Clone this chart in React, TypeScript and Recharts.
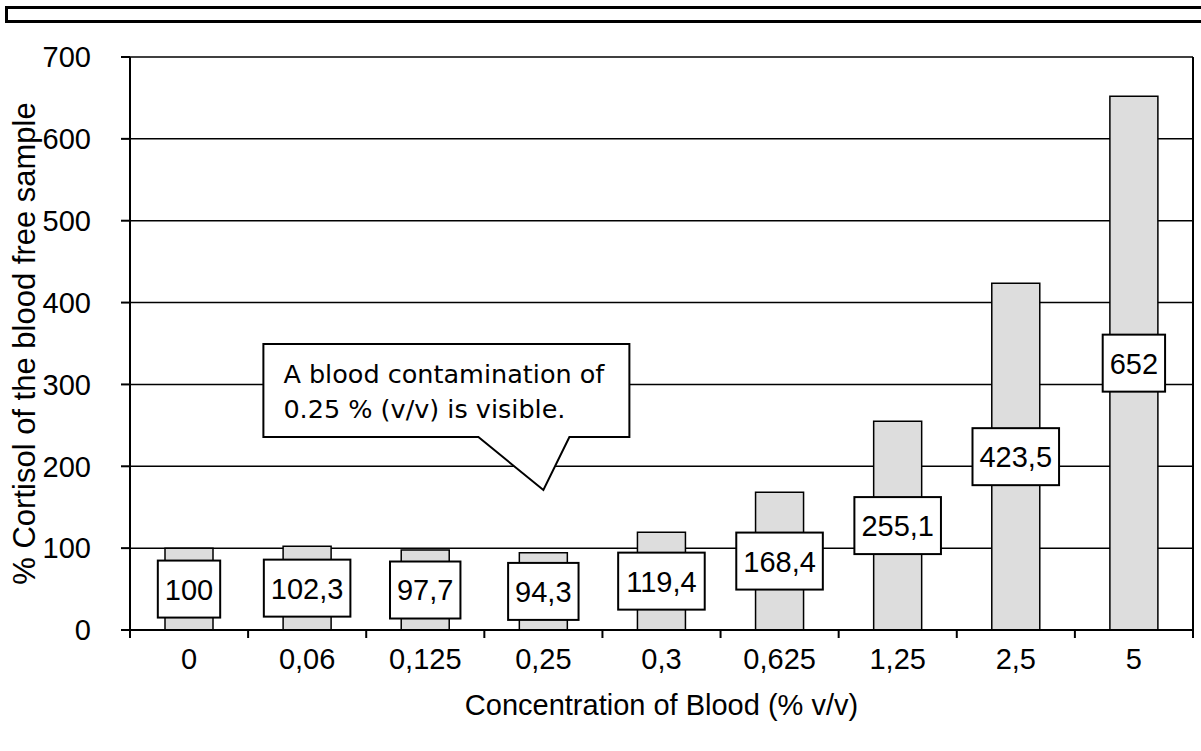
import React from 'react';
import {
  BarChart,
  Bar,
  XAxis,
  YAxis,
  CartesianGrid,
  LabelList,
  Label,
  ReferenceLine,
  ReferenceDot,
} from 'recharts';

// ---- data ----
const categories = ['0', '0,06', '0,125', '0,25', '0,3', '0,625', '1,25', '2,5', '5'];
const cortisolPct = [100, 102.3, 97.7, 94.3, 119.4, 168.4, 255.1, 423.5, 652];
const yTicks = [0, 100, 200, 300, 400, 500, 600, 700];
const calloutLines = ['A blood contamination of', '0.25 % (v/v) is visible.'];
const calloutCategory = '0,25';
const calloutValue = 171;
const xTitle = 'Concentration of Blood (% v/v)';
const yTitle = '% Cortisol of the blood free sample';

const data = categories.map((c, i) => ({ name: c, value: cortisolPct[i] }));

const FONT = '"Liberation Sans", Arial, sans-serif';
const FS = 29;
const X_TICK_SIZE = 8;
const X_TICK_MARGIN = 10;

const charW = (ch: string) => (ch === ',' || ch === '.' ? 0.278 : 0.556);

function XTick(props: any) {
  const { x, y, payload, index, visibleTicksCount, width } = props;
  const half = payload && payload.offset ? payload.offset : width / visibleTicksCount / 2;
  const axisY = y - X_TICK_SIZE - X_TICK_MARGIN;
  return (
    <g>
      <line x1={x - half} x2={x - half} y1={axisY} y2={axisY + X_TICK_SIZE} stroke="#000" strokeWidth={2} />
      {index === visibleTicksCount - 1 && (
        <line x1={x + half} x2={x + half} y1={axisY} y2={axisY + X_TICK_SIZE} stroke="#000" strokeWidth={2} />
      )}
      <text x={x} y={y} dy="0.71em" textAnchor="middle" fontFamily={FONT} fontSize={FS} fill="#000">
        {payload.value}
      </text>
    </g>
  );
}

function BoxLabel(props: any) {
  const { x, y, width, height, value } = props;
  const txt = String(value).replace('.', ',');
  const tw = txt.split('').reduce((s, ch) => s + charW(ch), 0) * FS;
  const bw = tw + 14;
  const bh = 57;
  const cx = Number(x) + Number(width) / 2;
  const cy = Number(y) + Number(height) / 2;
  return (
    <g>
      <rect x={cx - bw / 2} y={cy - bh / 2} width={bw} height={bh} fill="#fff" stroke="#000" strokeWidth={2} />
      <text x={cx} y={cy} dy="0.36em" textAnchor="middle" fontFamily={FONT} fontSize={FS} fill="#000">
        {txt}
      </text>
    </g>
  );
}

function Callout(props: any) {
  const { cx, cy } = props;
  const left = cx - 280;
  const right = cx + 86;
  const top = cy - 146;
  const bottom = cy - 53;
  const bl = cx - 65;
  const br = cx + 26;
  const d = `M${left},${top} H${right} V${bottom} H${br} L${cx},${cy} L${bl},${bottom} H${left} Z`;
  return (
    <g>
      <path d={d} fill="#fff" stroke="#000" strokeWidth={2} strokeLinejoin="miter" />
      {calloutLines.map((ln, i) => (
        <text
          key={i}
          x={cx - 260}
          y={cy - 107 + i * 35}
          fontFamily='"DejaVu Sans", Verdana, sans-serif'
          fontSize={25.5}
          fill="#000"
        >
          {ln}
        </text>
      ))}
    </g>
  );
}

export default function App() {
  return (
    <div style={{ position: 'absolute', left: 0, top: 0, width: 1201, height: 751, background: '#fff' }}>
      <div
        style={{
          position: 'absolute',
          left: 5,
          top: 6,
          width: 1210,
          height: 17,
          border: '3px solid #000',
          boxSizing: 'border-box',
        }}
      />
      <BarChart
        width={1201}
        height={751}
        data={data}
        margin={{ top: 57, right: 8, bottom: 0, left: 0 }}
        barCategoryGap={0}
      >
        <CartesianGrid vertical={false} stroke="#000" strokeWidth={1.5} />
        <XAxis
          dataKey="name"
          height={121}
          axisLine={{ stroke: '#000', strokeWidth: 2 }}
          tickLine={false}
          tickSize={X_TICK_SIZE}
          tickMargin={X_TICK_MARGIN}
          tick={<XTick />}
          interval={0}
        >
          <Label
            value={xTitle}
            position="insideBottom"
            offset={36}
            style={{ fontFamily: FONT, fontSize: FS, fill: '#000' }}
          />
        </XAxis>
        <YAxis
          width={130}
          domain={[0, 700]}
          ticks={yTicks}
          interval={0}
          axisLine={{ stroke: '#000', strokeWidth: 2 }}
          tickLine={{ stroke: '#000', strokeWidth: 2 }}
          tickSize={9}
          tickMargin={30}
          tick={{ fontFamily: FONT, fontSize: FS, fill: '#000' }}
        >
          <Label
            value={yTitle}
            angle={-90}
            position="insideLeft"
            offset={24}
            style={{ fontFamily: FONT, fontSize: 31, fill: '#000', textAnchor: 'middle' }}
          />
        </YAxis>
        <ReferenceLine x={categories[categories.length - 1]} position="end" stroke="#000" strokeWidth={2} />
        <Bar
          dataKey="value"
          fill="#dddddd"
          stroke="#000"
          strokeWidth={1.5}
          barSize={48}
          isAnimationActive={false}
        >
          <LabelList dataKey="value" content={<BoxLabel />} />
        </Bar>
        <ReferenceDot
          x={calloutCategory}
          y={calloutValue}
          r={0}
          shape={<Callout />}
          ifOverflow="visible"
        />
      </BarChart>
    </div>
  );
}
